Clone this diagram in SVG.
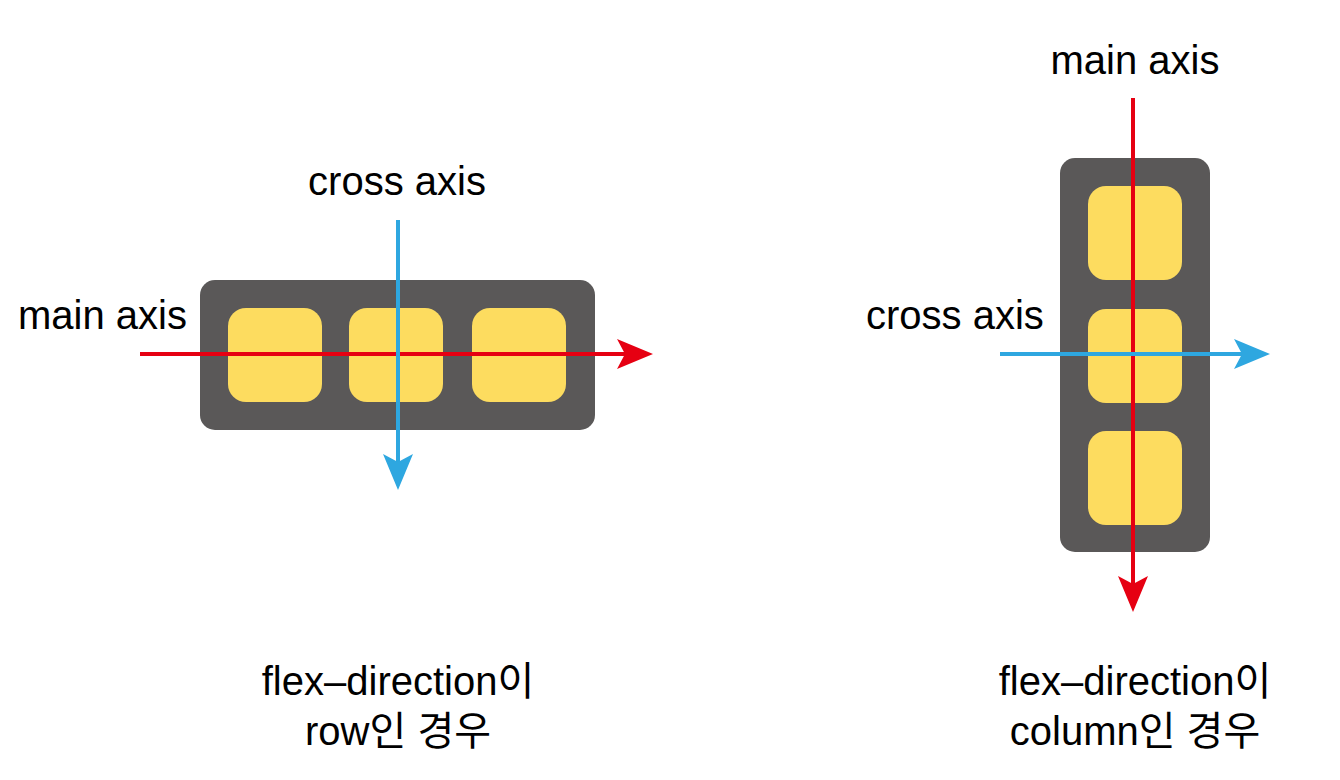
<svg xmlns="http://www.w3.org/2000/svg" width="1340" height="780" viewBox="0 0 1340 780">
<style>
.outer{fill:#5a5858}
.item{fill:#fddc5f}
.t{font-family:"Liberation Sans","Noto Sans CJK KR",sans-serif;font-size:40px;fill:#000}
.red{stroke:#e60012;stroke-width:4;fill:none}
.blue{stroke:#2ea7e0;stroke-width:4;fill:none}
</style>
<defs>
<marker id="ar" markerUnits="userSpaceOnUse" markerWidth="40" markerHeight="34" refX="9" refY="16" orient="auto" viewBox="0 0 40 34">
<path d="M36,16 L0,1 L8,16 L0,31 Z" fill="#e60012"/>
</marker>
<marker id="ab" markerUnits="userSpaceOnUse" markerWidth="40" markerHeight="34" refX="9" refY="16" orient="auto" viewBox="0 0 40 34">
<path d="M36,16 L0,1 L8,16 L0,31 Z" fill="#2ea7e0"/>
</marker>
</defs>
<g id="row-container">
<rect class="outer" x="200" y="280" width="395" height="150" rx="15"/>
<rect class="item" x="228" y="308" width="94" height="94" rx="18"/>
<rect class="item" x="349" y="308" width="94" height="94" rx="18"/>
<rect class="item" x="472" y="308" width="94" height="94" rx="18"/>
</g>
<g id="column-container">
<rect class="outer" x="1060" y="158" width="150" height="394" rx="15"/>
<rect class="item" x="1088" y="186" width="94" height="94" rx="18"/>
<rect class="item" x="1088" y="309" width="94" height="94" rx="18"/>
<rect class="item" x="1088" y="431" width="94" height="94" rx="18"/>
</g>
<g id="connectors">
<path class="red" d="M140,354 H626" marker-end="url(#ar)"/>
<path class="blue" d="M398,220 V463" marker-end="url(#ab)"/>
<path class="red" d="M1133,98 V585" marker-end="url(#ar)"/>
<path class="blue" d="M1000,354 H1243" marker-end="url(#ab)"/>
</g>
<g id="labels">
<text class="t" x="397" y="195" text-anchor="middle">cross axis</text>
<text class="t" x="18" y="329">main axis</text>
<text class="t" x="398" y="695" text-anchor="middle">flex–direction이</text>
<text class="t" x="398" y="745" text-anchor="middle">row인 경우</text>
<text class="t" x="1135" y="74" text-anchor="middle">main axis</text>
<text class="t" x="866" y="329">cross axis</text>
<text class="t" x="1135" y="695" text-anchor="middle">flex–direction이</text>
<text class="t" x="1135" y="745" text-anchor="middle">column인 경우</text>
</g>
</svg>
